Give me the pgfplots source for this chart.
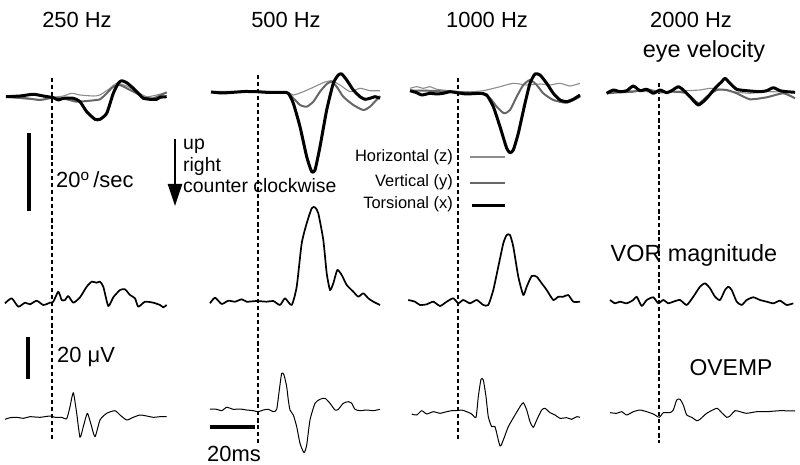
\documentclass[border=0pt]{standalone}
\usepackage{pgfplots}
\pgfplotsset{compat=1.18}
\usepackage{fontspec}
\setmainfont{Liberation Sans}
\usetikzlibrary{arrows.meta}
\definecolor{hz}{gray}{0.55}
\definecolor{vt}{gray}{0.4}
\begin{document}
\begin{tikzpicture}
\begin{axis}[x=1bp, y=1bp, y dir=reverse, xmin=0, xmax=800, ymin=0, ymax=465,
  hide axis, clip=false, scale only axis,
  every axis plot/.append style={mark=none, smooth, tension=0.35, line join=round},
  nodes={inner sep=0pt}]
\path (axis cs:0,0) rectangle (axis cs:800,465);

% stimulus onset
\pgfplotsset{onset/.style={black, line width=1.8bp, dash pattern=on 4bp off 3bp, smooth=false}}
\addplot[onset] coordinates {(52,78) (52,442)};
\addplot[onset] coordinates {(258,75) (258,446)};
\addplot[onset] coordinates {(458,78) (458,442)};
\addplot[onset] coordinates {(659,83) (659,443)};

% ---- eye velocity, 250 Hz
\addplot[hz, line width=1.1bp] coordinates {(6,97.3) (26.7,99) (43.3,99.3) (53.3,97.3) (63.3,96) (71.7,93.3) (80,95) (93.3,96) (100,95) (110,88.3) (116.7,83.3) (126.7,86) (136.7,91.7) (146.7,96.7) (156.7,95) (166.7,92.3)};
\addplot[vt, line width=2bp] coordinates {(6,96.7) (26.7,98.3) (40,100) (53.3,97.7) (66.7,99.3) (76.7,101.7) (90,100.7) (100,99.3) (106.7,93.3) (113.3,86.7) (120,85) (130,90) (136.7,93.3) (143.3,97.3) (153.3,98.3) (166.7,92.3)};
\addplot[black, line width=3bp] coordinates {(6,96.7) (20,96) (33.3,94.3) (43.3,96) (53.3,97.7) (58.3,100) (63.3,98.3) (73.3,98.3) (80,101.7) (86.7,111.7) (95,119.3) (100,119.3) (106.7,113.3) (113.3,93.3) (118.3,83.3) (121.7,80.7) (126.7,82.7) (133.3,88.3) (140,95) (143.3,98.3) (150,99.3) (156.7,99.3) (160,97.3) (166.7,96.7)};
% ---- eye velocity, 500 Hz
\addplot[hz, line width=1.1bp] coordinates {(211,92) (283.3,92.3) (293.3,95) (303.3,91.7) (313.3,87.3) (323.3,82.7) (331.7,80.7) (340,85) (350,91.7) (360,88.3) (370,90.7) (380,90.7)};
\addplot[vt, line width=2bp] coordinates {(211,92) (283.3,92.3) (293.3,98.3) (300,105) (306.7,106.7) (313.3,101.7) (320,91.7) (326.7,84) (331.7,81.7) (336.7,86.7) (343.3,96.7) (353.3,105) (363.3,110) (370,106.7) (380,96)};
\addplot[black, line width=3bp] coordinates {(211,92) (222,93) (233.3,92.3) (245,91.5) (256.7,91.7) (270,92.5) (283.3,92.3) (288.3,93.3) (293.3,103.3) (300,126.7) (306.7,156.7) (311.7,171.7) (315,170) (320,146.7) (326.7,110) (333.3,83.3) (338.3,75) (341.7,74) (346.7,80) (353.3,90) (360,96.7) (365,99.3) (370,98.3) (375,96.7) (380,98.3)};
% ---- eye velocity, 1000 Hz
\addplot[hz, line width=1.1bp] coordinates {(410,88.3) (416.7,86.7) (423.3,88.3) (430,86.7) (436.7,89.3) (450,90.7) (466.7,92) (483.3,90.7) (500,86.7) (513.3,83.3) (526.7,85) (540,84) (550,85) (560,83.3) (570,86) (580,83.3)};
\addplot[vt, line width=2bp] coordinates {(410,90.7) (426.7,90.7) (450,91.7) (480,93.3) (490,98.3) (496.7,106.7) (504,113.3) (510,110) (516.7,96.7) (523.3,85) (530,80) (536.7,85) (543.3,93.3) (553.3,100) (566.7,102.7) (580,96.7)};
\addplot[black, line width=3bp] coordinates {(410,90.7) (416.7,92.7) (421.7,95) (430,93.3) (436.7,94) (443.3,93.3) (450,91.7) (456.7,92.7) (466.7,94) (480,93.3) (486.7,95) (493.3,106.7) (500,126.7) (506.7,148.3) (510,152.7) (513.3,150) (518.3,133.3) (525,103.3) (530,83.3) (535,74) (540,75) (546.7,83.3) (553.3,93.3) (560,100) (566.7,101.7) (573.3,99.3) (580,95)};
% ---- eye velocity, 2000 Hz
\addplot[hz, line width=1.1bp] coordinates {(606.7,92.7) (626.7,90.7) (660,92.3) (686.7,90.7) (700,90) (710,88.3) (720,89.3) (733.3,91.7) (750,93.3) (766.7,91.7) (795,92.3)};
\addplot[vt, line width=2bp] coordinates {(606.7,93.3) (620,92.3) (633.3,91.7) (646.7,89.3) (660,92.3) (673.3,91.7) (686.7,93.3) (698.3,103.3) (706.7,96.7) (716.7,90) (726.7,90) (736.7,93.3) (750,99.3) (766.7,97.3) (783.3,93.3) (795,98.3)};
\addplot[black, line width=3bp] coordinates {(606.7,93.3) (613.3,90) (620,91.7) (626.7,90.7) (633.3,86) (640,90.7) (646.7,89.3) (653.3,93.3) (660,90) (666.7,92.7) (671.7,90.7) (678.3,86.7) (683.3,90) (690,96.7) (698.3,105) (706.7,98.3) (715,88.3) (721.7,81.7) (725,78.3) (730,83.3) (736.7,89.3) (746.7,90.7) (760,91.7) (766.7,90.7) (773.3,87.7) (780,90.7) (786.7,91.7) (795,92.3)};

% ---- VOR magnitude
\addplot[black, line width=1.7bp] coordinates {(5,303.3) (11.7,298.3) (18.3,306.7) (25,302.7) (30,304.3) (36.7,300.7) (43.3,305) (50,302.7) (53.3,301.7) (58.3,291.7) (61.7,300) (65,300) (68.3,296) (73.3,302.7) (80,297.3) (86.7,286.7) (91.7,281.7) (96.7,282.7) (100,281.7) (103.3,286.7) (108.3,306) (113.3,297.3) (120,290) (125,289.3) (130,295) (135,298.3) (138.3,306.7) (145,301.7) (153.3,302.7) (160,305) (163.3,307.3) (166.7,305)};
\addplot[black, line width=1.7bp] coordinates {(210,303.3) (215,297.7) (221.7,304) (228.3,300.7) (235,301.7) (241.7,299.3) (246.7,301.7) (256.7,301) (266.7,301.7) (273.3,301) (280,305) (285,298.3) (291.7,305) (296.7,286.7) (301.7,243.3) (306.7,223.3) (311.7,208.3) (315,207.3) (318.3,213.3) (323.3,240) (326.7,273.3) (330,290) (333.3,283.3) (337.3,270) (341.7,275) (346.7,285) (353.3,291.7) (358.3,296.7) (363.3,293.3) (368.3,298.3) (373.3,301.7) (380,305)};
\addplot[black, line width=1.7bp] coordinates {(408.3,300) (415,301.7) (420,305) (426.7,304.3) (433.3,301.7) (440,306) (446.7,301.7) (453.3,298.3) (458.3,303.3) (463.3,300) (470,303.3) (476.7,300) (483.3,305) (488.3,305) (493.3,290) (498.3,266.7) (503.3,243.3) (506.7,235) (510,235) (513.3,246.7) (518.3,276.7) (523.3,295) (526.7,286.7) (531.7,276) (536.7,276.7) (541.7,283.3) (546.7,290) (553.3,300) (558.3,296.7) (563.3,296.7) (568.3,295) (573.3,301.7) (580,301.7)};
\addplot[black, line width=1.7bp] coordinates {(610,300) (615,303.3) (620,301.7) (626.7,303.3) (633.3,300) (636.7,296.7) (641.7,306) (646.7,300) (653.3,297.3) (658.3,303.3) (663.3,300) (668.3,303.3) (673.3,301.7) (680,300) (686.7,305) (693.3,296.7) (700,286.7) (705,283.3) (710,288.3) (715,296.7) (720,300) (725,290) (728.3,286.7) (731.7,290) (736.7,301.7) (741.7,305) (746.7,300) (753.3,297.3) (760,300) (766.7,301.7) (773.3,303.3) (780,300.7) (786.7,305) (793.3,303.3)};

% ---- OVEMP
\addplot[black, line width=1bp] coordinates {(5,419.3) (10,417.7) (16.7,417.3) (23.3,418.3) (30,416.7) (40,417.3) (50,416) (55,417.3) (61.7,417.3) (66.7,418.7) (70,406.7) (73.3,392.7) (76.7,413.3) (80,437.3) (83.3,426.7) (87.3,413.3) (90.7,423.3) (95,436.7) (100,420) (106.7,413.3) (115,410.7) (120,415) (126.7,420) (133.3,417.3) (140,415) (146.7,416) (153.3,417.3) (160,416.7) (166.7,416.7)};
\addplot[black, line width=1bp] coordinates {(210,409) (216.7,409.3) (221.7,410.7) (226.7,407.3) (233.3,409.3) (240,409) (246.7,410) (253.3,410.7) (258.3,411.7) (263.3,410) (268.3,409.3) (273.3,411.7) (276.7,409.3) (279.3,390) (281.7,373.3) (284,375) (286.7,386.7) (288.3,400) (290,410) (293.3,415) (296.7,426.7) (300,443.3) (304,452.7) (306.7,445) (310,420) (315,403.3) (320,399.3) (325,398.3) (330,403.3) (335,410) (338.3,409.3) (343.3,403.3) (348.3,401.7) (351.7,403.3) (355,409.3) (360,410.7) (366.7,410) (373.3,410.7) (380,409.3)};
\addplot[black, line width=1bp] coordinates {(411.7,414) (416.7,415) (421.7,410.7) (426.7,414) (433.3,411.7) (440,413.3) (446.7,411.7) (451.7,410.7) (456.7,410.7) (461.7,410) (466.7,411.7) (471.7,414) (476,417.3) (478.3,396.7) (481,379.3) (483.3,380) (486,396.7) (488.3,416.7) (491.7,426.7) (495,426.7) (500,446) (503.3,440) (508.3,426.7) (515,415) (520,406.7) (523.3,402.7) (526.7,410) (530,421.7) (533.3,427.3) (536.7,420) (541.7,410) (545,408.3) (550,412.7) (555,415) (560,418.3) (566.7,417.7) (571.7,419.3) (576.7,416.7) (580,417.3)};
\addplot[black, line width=1bp] coordinates {(610,412.7) (616.7,413.3) (621.7,411.7) (626.7,415) (633.3,411.7) (640,410) (646.7,411.7) (653.3,414) (659.3,417.3) (663.3,412.7) (670,412.7) (673.3,410) (676.7,400) (680,399.3) (683.3,405) (686.7,415) (691.7,417.3) (696.7,420.7) (700,419.3) (706.7,413.3) (716.7,408.3) (721.7,412.7) (726.7,417.3) (730,416) (735,410.7) (740,411.7) (746.7,413.3) (756.7,411.7) (766.7,411.7) (780,410.7) (795,411)};

% scale bars and legend samples
\addplot[black, line width=4bp, smooth=false] coordinates {(29,133) (29,211)};
\addplot[black, line width=4bp, smooth=false] coordinates {(28,337) (28,379)};
\addplot[black, line width=4bp, smooth=false] coordinates {(210,427) (255,427)};
\addplot[black, line width=2.5bp, smooth=false, -{Triangle[length=22bp, width=14bp]}] coordinates {(175,139) (175,206)};
\addplot[hz, line width=1.3bp, smooth=false] coordinates {(470,157) (505,157)};
\addplot[vt, line width=2bp, smooth=false] coordinates {(470,183) (505,183)};
\addplot[black, line width=3bp, smooth=false] coordinates {(472,206) (505,206)};

% text
\node[font=\fontsize{22}{24}\selectfont] at (axis cs:77,20) {250 Hz};
\node[font=\fontsize{22}{24}\selectfont] at (axis cs:286,20) {500 Hz};
\node[font=\fontsize{22}{24}\selectfont] at (axis cs:487,20) {1000 Hz};
\node[font=\fontsize{22}{24}\selectfont] at (axis cs:691,20) {2000 Hz};
\node[font=\fontsize{23.5}{26}\selectfont] at (axis cs:704,51) {eye velocity};
\node[font=\fontsize{22}{24}\selectfont, anchor=west] at (axis cs:56,180) {20\textsuperscript{o}\,/sec};
\node[font=\fontsize{19.5}{22}\selectfont, anchor=west] at (axis cs:183,146) {up};
\node[font=\fontsize{19.5}{22}\selectfont, anchor=west] at (axis cs:183,166) {right};
\node[font=\fontsize{19.5}{22}\selectfont, anchor=west] at (axis cs:183,186) {counter clockwise};
\node[font=\fontsize{16.5}{18}\selectfont, anchor=east] at (axis cs:453,157) {Horizontal (z)};
\node[font=\fontsize{16.5}{18}\selectfont, anchor=east] at (axis cs:453,182) {Vertical (y)};
\node[font=\fontsize{16.5}{18}\selectfont, anchor=east] at (axis cs:453,204) {Torsional (x)};
\node[font=\fontsize{23.5}{26}\selectfont] at (axis cs:694,255) {VOR magnitude};
\node[font=\fontsize{22}{24}\selectfont, anchor=west] at (axis cs:57,357) {20 μV};
\node[font=\fontsize{23}{26}\selectfont] at (axis cs:731,368) {OVEMP};
\node[font=\fontsize{22}{24}\selectfont] at (axis cs:234,454) {20ms};
\end{axis}
\end{tikzpicture}
\end{document}
